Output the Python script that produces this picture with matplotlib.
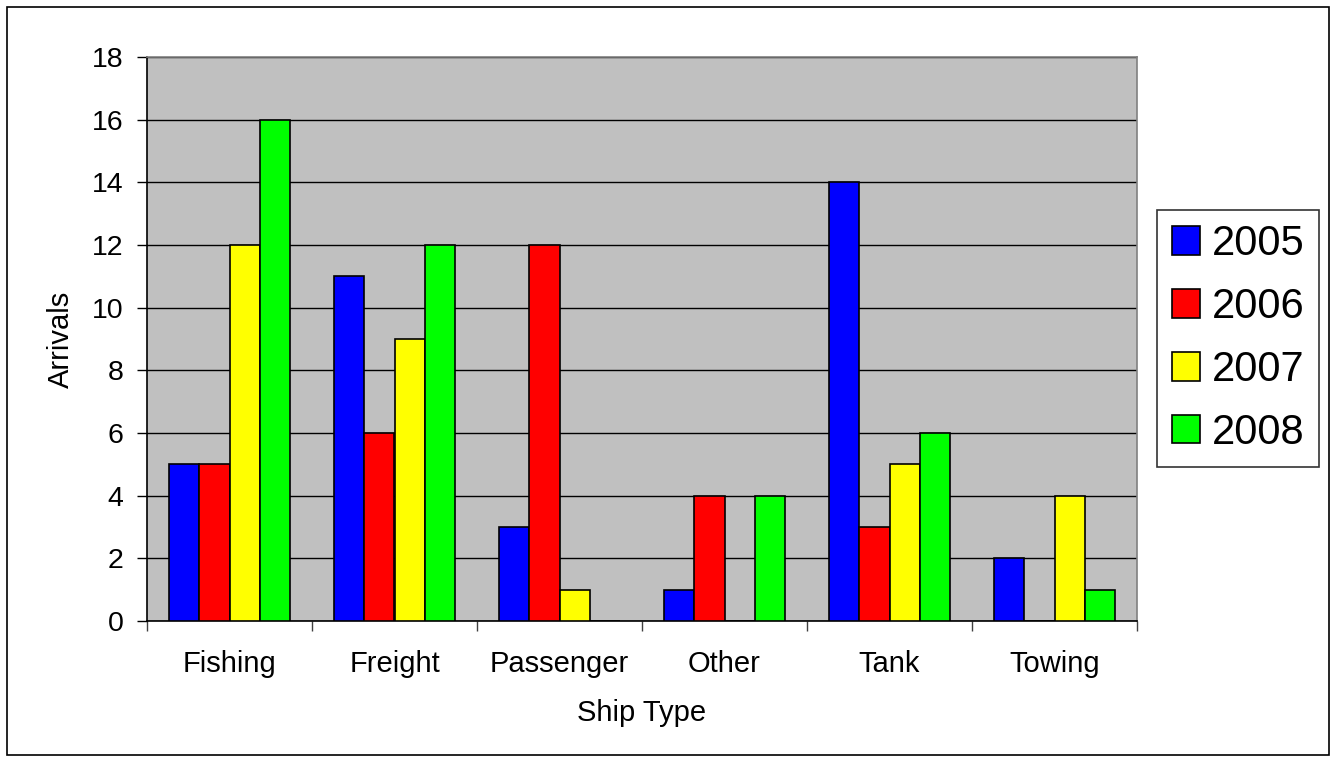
import matplotlib.pyplot as plt
import numpy as np

plt.rcParams['font.family'] = ['Liberation Sans', 'DejaVu Sans']

# data
ship_types = ['Fishing', 'Freight', 'Passenger', 'Other', 'Tank', 'Towing']
years = ['2005', '2006', '2007', '2008']
arrivals_2005 = [5, 11, 3, 1, 14, 2]
arrivals_2006 = [5, 6, 12, 4, 3, 0]
arrivals_2007 = [12, 9, 1, 0, 5, 4]
arrivals_2008 = [16, 12, 0, 4, 6, 1]
series = [arrivals_2005, arrivals_2006, arrivals_2007, arrivals_2008]
colors = ['#0000FF', '#FF0000', '#FFFF00', '#00FF00']

fig = plt.figure(figsize=(13.33, 7.6), dpi=100)
ax = fig.add_axes([147 / 1333, 139 / 760, 990 / 1333, 564 / 760])
ax.set_facecolor('#C0C0C0')

x = np.arange(len(ship_types))
bar_w = 0.183
for i, (vals, year, col) in enumerate(zip(series, years, colors)):
    ax.bar(x + (i - 1.5) * bar_w, vals, width=bar_w, color=col,
           edgecolor='black', linewidth=1.2, label=year, zorder=3)

ax.set_xlim(-0.5, len(ship_types) - 0.5)
ax.set_ylim(0, 18)
ax.set_yticks(range(0, 19, 2))
ax.yaxis.grid(True, color='black', linewidth=1, zorder=1)
ax.set_axisbelow(True)

# category labels centred, tick marks between categories
ax.set_xticks(x)
ax.set_xticklabels(ship_types, fontsize=21)
ax.tick_params(axis='x', which='major', length=0, pad=21)
ax.set_xticks(np.arange(-0.5, len(ship_types)), minor=True)
ax.tick_params(axis='x', which='minor', length=7, width=1, color='#404040')
ax.tick_params(axis='y', length=7, width=1, labelsize=20.5, pad=10)

for side in ['left', 'bottom']:
    ax.spines[side].set_color('black')
    ax.spines[side].set_linewidth(1.2)
for side in ['top', 'right']:
    ax.spines[side].set_color('#808080')
    ax.spines[side].set_linewidth(1.2)

ax.set_xlabel('Ship Type', fontsize=21, labelpad=15)
ax.set_ylabel('Arrivals', fontsize=21, labelpad=12)

leg = ax.legend(loc='center left', bbox_to_anchor=(1157 / 1333, 421.5 / 760),
                bbox_transform=fig.transFigure, fontsize=30, frameon=True,
                fancybox=False, edgecolor='black', handlelength=0.67,
                handleheight=0.67, handletextpad=0.3, labelspacing=0.55,
                borderpad=0.35, borderaxespad=0)
leg.get_frame().set_linewidth(1.2)

# outer chart border
fig.patches.append(plt.Rectangle((7 / 1333, 5 / 760), 1322 / 1333, 748 / 760,
                                 transform=fig.transFigure, fill=False,
                                 edgecolor='black', linewidth=1.2))

fig.savefig('out.png', dpi=100)
